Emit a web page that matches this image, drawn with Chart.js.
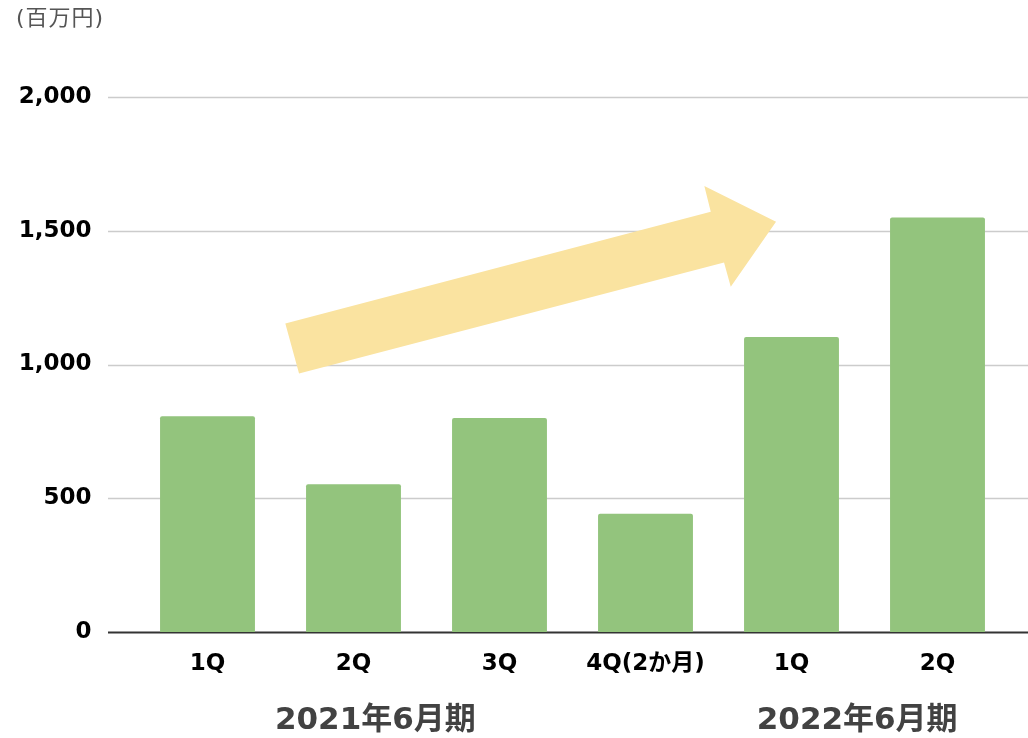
<!DOCTYPE html>
<html>
<head>
<meta charset="utf-8">
<script src="https://cdn.jsdelivr.net/npm/chart.js@4"></script>
<style>
  html, body { margin: 0; padding: 0; background: #fff; }
  #wrap { width: 1028px; height: 738px; position: relative; }
</style>
</head>
<body>
<div id="wrap"><canvas id="chart" width="1028" height="738"></canvas></div>
<script>
// data
const quarters = ["1Q", "2Q", "3Q", "4Q(2か月)", "1Q", "2Q"];
const sales = [807, 552, 800, 442, 1103, 1550];
const yTicks = [0, 500, 1000, 1500, 2000];
const unitLabel = "(百万円)";
const periodLabels = ["2021年6月期", "2022年6月期"];
// where each period label sits, in category units
const periodAt = [1.15, 4.45];
// trend arrow outline, in [category, value] units
const arrowPath = [
  [0.533, 1153], [3.447, 1571], [3.403, 1667], [3.894, 1534],
  [3.584, 1291], [3.538, 1381], [0.627, 966]
];

const face = "'DejaVu Sans', 'Noto Sans CJK JP', sans-serif";

const extras = {
  id: "extras",
  beforeDatasetsDraw(chart) {
    const { ctx } = chart;
    const y = chart.scales.y;
    ctx.save();
    yTicks.forEach((v) => {
      const py = Math.round(y.getPixelForValue(v)) + 0.5;
      ctx.beginPath();
      ctx.moveTo(108, py);
      ctx.lineTo(1028, py);
      ctx.strokeStyle = v === 0 ? "#333" : "#cccccc";
      ctx.lineWidth = v === 0 ? 2 : 1.5;
      ctx.stroke();
    });
    ctx.restore();
  },
  afterDraw(chart) {
    const { ctx } = chart;
    const x = chart.scales.x, y = chart.scales.y;
    const px = (i) => {
      const a = x.getPixelForValue(0), b = x.getPixelForValue(1);
      return a + (b - a) * i;
    };
    ctx.save();
    // arrow
    ctx.beginPath();
    arrowPath.forEach(([i, v], k) => {
      const X = px(i), Y = y.getPixelForValue(v);
      if (k === 0) ctx.moveTo(X, Y); else ctx.lineTo(X, Y);
    });
    ctx.closePath();
    ctx.fillStyle = "#fae3a0";
    ctx.fill();
    // unit label
    ctx.fillStyle = "#555";
    ctx.font = "22px " + face;
    ctx.letterSpacing = "1px";
    ctx.textBaseline = "middle";
    ctx.textAlign = "left";
    ctx.fillText(unitLabel, 16, 19);
    ctx.letterSpacing = "0px";
    // period labels
    ctx.fillStyle = "#424242";
    ctx.font = "bold 31px " + face;
    ctx.textAlign = "center";
    periodLabels.forEach((t, k) => ctx.fillText(t, px(periodAt[k]), 721));
    ctx.restore();
  }
};

new Chart(document.getElementById("chart"), {
  type: "bar",
  data: {
    labels: quarters,
    datasets: [{
      data: sales,
      backgroundColor: "#93c47d",
      borderRadius: 2,
      borderSkipped: "bottom",
      barPercentage: 0.65,
      categoryPercentage: 1.0,
    }],
  },
  options: {
    responsive: false,
    animation: false,
    layout: { padding: { top: 97, right: 17.5, left: 0, bottom: 0 } },
    plugins: { legend: { display: false }, tooltip: { enabled: false }, title: { display: false } },
    scales: {
      x: {
        grid: { display: false, drawTicks: false },
        border: { display: false },
        ticks: { padding: 18, color: "#000", font: { family: face, size: 23, weight: "bold" }, maxRotation: 0 },
        afterFit(s) { s.height = 106; },
      },
      y: {
        min: 0,
        max: 2000,
        grid: { display: false, drawTicks: false },
        border: { display: false },
        ticks: {
          stepSize: 500,
          padding: 43,
          color: "#000",
          font: { family: face, size: 23, weight: "bold" },
          callback: (v) => v.toLocaleString("en-US"),
        },
        afterFit(s) { s.width = 134.5; },
      },
    },
  },
  plugins: [extras],
});
</script>
</body>
</html>
